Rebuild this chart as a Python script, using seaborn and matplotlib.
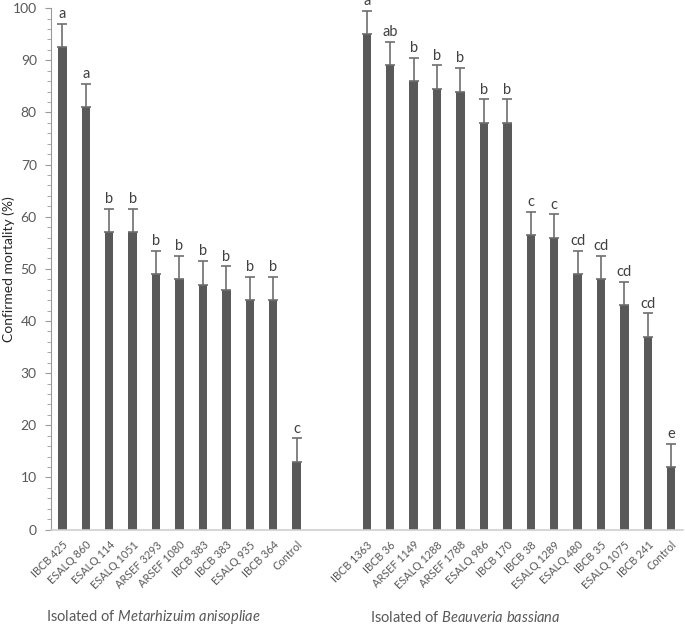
import matplotlib
matplotlib.use("Agg")
import matplotlib.pyplot as plt
import seaborn as sns
import pandas as pd
import numpy as np
from matplotlib.ticker import MultipleLocator

meta_labels = ["IBCB 425", "ESALQ 860", "ESALQ 114", "ESALQ 1051", "ARSEF 3293", "ARSEF 1080",
               "IBCB 383", "IBCB 383", "ESALQ 935", "IBCB 364", "Control"]
meta_values = [92.5, 81, 57, 57, 49, 48, 47, 46, 44, 44, 13]
meta_err = [4.5, 4.5, 4.5, 4.5, 4.5, 4.5, 4.5, 4.5, 4.5, 4.5, 4.5]
meta_letters = ["a", "a", "b", "b", "b", "b", "b", "b", "b", "b", "c"]

beau_labels = ["IBCB 1363", "IBCB 36", "ARSEF 1149", "ESALQ 1288", "ARSEF 1788", "ESALQ 986",
               "IBCB 170", "IBCB 38", "ESALQ 1289", "ESALQ 480", "IBCB 35", "ESALQ 1075",
               "IBCB 241", "Control"]
beau_values = [95, 89, 86, 84.5, 84, 78, 78, 56.5, 56, 49, 48, 43, 37, 12]
beau_err = [4.5, 4.5, 4.5, 4.5, 4.5, 4.5, 4.5, 4.5, 4.5, 4.5, 4.5, 4.5, 4.5, 4.5]
beau_letters = ["a", "ab", "b", "b", "b", "b", "b", "c", "c", "cd", "cd", "cd", "cd", "e"]

gap_slots = 2

keys_meta = [f"M{i}" for i in range(len(meta_labels))]
keys_beau = [f"B{i}" for i in range(len(beau_labels))]
keys_gap = [f"G{i}" for i in range(gap_slots)]
order = keys_meta + keys_gap + keys_beau
tick_labels = meta_labels + [""] * gap_slots + beau_labels

df = pd.DataFrame({
    "key": keys_meta + keys_beau,
    "value": meta_values + beau_values,
    "err": meta_err + beau_err,
    "letter": meta_letters + beau_letters,
})

plt.rcParams['font.family'] = ['Lato', 'DejaVu Sans']
plt.rcParams['mathtext.fontset'] = 'custom'
plt.rcParams['mathtext.it'] = 'Lato:italic'
plt.rcParams['mathtext.rm'] = 'Lato'
text_col = "#595959"
bar_col = "#595959"

fig = plt.figure(figsize=(6.85, 6.26), dpi=100)
ax = fig.add_axes([0.074, 0.154, 0.923, 0.833])

sns.barplot(data=df, x="key", y="value", order=order, color=bar_col, width=0.36,
            saturation=1, errorbar=None, ax=ax, edgecolor="none")

pos = {k: i for i, k in enumerate(order)}
xs = np.array([pos[k] for k in df["key"]])
ax.errorbar(xs, df["value"], yerr=[np.zeros(len(df)), df["err"]], fmt="none",
            ecolor="#6e6e6e", elinewidth=1.2, capsize=3.5, capthick=1.2)
for x, v, e, l in zip(xs, df["value"], df["err"], df["letter"]):
    ax.text(x, v + e + 0.5, l, ha="center", va="bottom", fontsize=10.5, color="#404040",
            clip_on=False)

ax.set_ylim(0, 100)
ax.set_xlim(-0.5, len(order) - 0.5)
ax.yaxis.set_major_locator(MultipleLocator(10))
ax.yaxis.set_minor_locator(MultipleLocator(2))
ax.tick_params(axis="y", which="major", length=4, color="#9a9a9a", labelsize=10, labelcolor=text_col, pad=6)
ax.tick_params(axis="y", which="minor", length=3, color="#9a9a9a")
ax.set_xticks(range(len(order)))
ax.set_xticklabels(tick_labels, rotation=45, ha="right", rotation_mode="anchor",
                   fontsize=7.8, color=text_col)
ax.tick_params(axis="x", length=0, pad=7)
ax.set_xlabel("")
ax.set_ylabel("Confirmed mortality (%)", fontsize=10, color="#262626")
ax.yaxis.set_label_coords(-0.057, 0.5)

for s in ["top", "right"]:
    ax.spines[s].set_visible(False)
ax.spines["left"].set_color("#9a9a9a")
ax.spines["bottom"].set_color("#d0d0d0")
ax.spines["bottom"].set_linewidth(1.2)

fig.text(46 / 685, 1 - 617 / 626, r"Isolated of $\mathit{Metarhizuim\ anisopliae}$", fontsize=10.5,
         color=text_col, va="center", ha="left")
fig.text(370 / 685, 1 - 617 / 626, r"Isolated of $\mathit{Beauveria\ bassiana}$", fontsize=10.5,
         color=text_col, va="center", ha="left")

fig.savefig("out.png", dpi=100)
